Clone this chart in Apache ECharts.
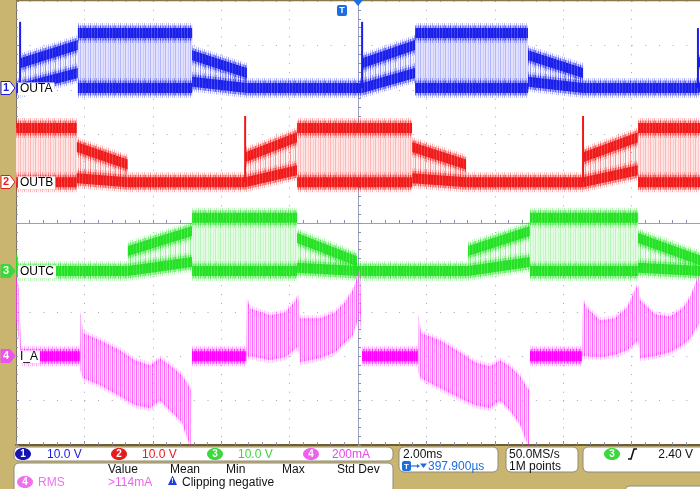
<!DOCTYPE html>
<html><head><meta charset="utf-8">
<script src="https://cdn.jsdelivr.net/npm/echarts@6/dist/echarts.min.js"></script>
<style>html,body{margin:0;padding:0;background:#c9b570}#c{width:700px;height:489px}</style>
</head><body><div id="c"></div>
<script>
// ---------------- DATA ----------------
// time axis in ms relative to trigger, 2.00 ms/div, 10 divisions
const timeMin = -10, timeMax = 10, timeDiv = 2;
const channelNames = ['OUTA', 'OUTB', 'OUTC', 'I_A'];
const channelScale = [10, 10, 10, 200];          // V/div, V/div, V/div, mA/div
const channelGround = [3.04, 0.92, -1.08, -3.0];  // ground position, divisions above centre

// segments: [t0, t1, low0, low1, high0, high1, kind]  kind 0 = low only, 1 = ramp, 2 = full pwm
const outaSegments = [
  [-10, -9.88, 0, 0, 0, 0, 0],
  [-9.88, -8.19, 0, 3.4, 5.6, 9.7, 1],
  [-8.19, -4.85, 0, 0, 12.4, 12.4, 2],
  [-4.85, -3.25, 1.4, 0, 7.4, 3.4, 1],
  [-3.25, 0.12, 0, 0, 0, 0, 0],
  [0.12, 1.67, 0, 3.4, 5.6, 9.7, 1],
  [1.67, 4.97, 0, 0, 12.4, 12.4, 2],
  [4.97, 6.58, 1.4, 0, 7.4, 3.4, 1],
  [6.58, 9.94, 0, 0, 0, 0, 0],
  [9.94, 10, 0, 0.2, 5.6, 5.9, 1]
];
const outaSpikes = [[-9.88, 14.9], [0.12, 14.9], [9.94, 13.5]];

const outbSegments = [
  [-10, -8.22, 0, 0, 12.2, 12.2, 2],
  [-8.22, -6.73, 0.9, 0, 7.9, 4.0, 1],
  [-6.73, -3.30, 0, 0, 0, 0, 0],
  [-3.30, -1.78, 0, 2.7, 5.6, 10.1, 1],
  [-1.78, 1.58, 0, 0, 12.2, 12.2, 2],
  [1.58, 3.16, 0.9, 0, 7.9, 4.0, 1],
  [3.16, 6.58, 0, 0, 0, 0, 0],
  [6.58, 8.19, 0, 2.7, 5.6, 10.1, 1],
  [8.19, 10, 0, 0, 12.2, 12.2, 2]
];
const outbSpikes = [[-3.30, 14.9], [6.58, 14.9]];

const outcSegments = [
  [-10, -9.95, 0, 0, 2.4, 2.0, 1],
  [-9.95, -6.73, 0, 0, 0, 0, 0],
  [-6.73, -4.85, 0, 2.0, 4.5, 9.0, 1],
  [-4.85, -1.78, 0, 0, 12.0, 12.0, 2],
  [-1.78, -0.03, 0.7, 0, 7.4, 2.2, 1],
  [-0.03, 3.22, 0, 0, 0, 0, 0],
  [3.22, 5.03, 0, 2.0, 4.5, 9.0, 1],
  [5.03, 8.19, 0, 0, 12.0, 12.0, 2],
  [8.19, 10, 0.7, 0, 7.4, 2.4, 1]
];

// I_A current envelope (mA)
const iaTime = [-10, -9.91, -9.85, -8.13, -8.11, -8.04, -7.54, -6.96, -6.52, -6.08, -5.79, -5.50, -5.15, -4.97, -4.88, -4.85,
  -3.27, -3.25, -3.16, -2.57, -2.13, -1.81, -1.75, -1.70, -1.11, -0.67, -0.38, -0.15, 0.00, 0.06, 0.12,
  1.75, 1.77, 1.84, 2.40, 2.98, 3.42, 3.86, 4.15, 4.44, 4.74, 4.91, 5.00, 5.03,
  6.55, 6.58, 6.67, 7.08, 7.51, 7.87, 8.13, 8.19, 8.25, 8.68, 9.12, 9.50, 9.71, 9.91, 10.00];
const iaHigh = [365, 297, 0, 0, 194, 104, 72, 27, -18, -41, -9, -41, -86, -131, -153, 0,
  0, 261, 216, 185, 198, 252, 279, 171, 171, 198, 243, 297, 365, 396, 0,
  0, 185, 104, 72, 18, -27, -45, -18, -45, -90, -135, -153, 0,
  0, 252, 221, 162, 171, 221, 306, 320, 252, 189, 180, 216, 266, 342, 360];
const iaLow = [162, 72, 0, 0, -63, -99, -131, -180, -221, -234, -198, -243, -297, -378, -401, 0,
  0, 0, 0, -18, -5, 36, 45, -27, -9, 18, 63, 95, 171, 198, 0,
  0, -72, -99, -144, -189, -221, -234, -198, -243, -306, -378, -401, 0,
  0, 0, 0, -5, 5, 27, 63, 72, -9, 0, 18, 50, 81, 131, 153];

// ---------------- RENDERING ----------------
function pattern(bg, stripes, period) {
  const c = document.createElement('canvas');
  c.width = period; c.height = 4;
  const g = c.getContext('2d');
  if (bg) { g.fillStyle = bg; g.fillRect(0, 0, period, 4); }
  stripes.forEach(([x, w, col]) => { g.fillStyle = col; g.fillRect(x, 0, w, 4); });
  return { image: c, repeat: 'repeat' };
}
function rgba(c, a) { return 'rgba(' + c[0] + ',' + c[1] + ',' + c[2] + ',' + a + ')'; }

function makeStyle(c, pale) {
  return {
    layers: [
      [10, pattern(null, [[0, 1, rgba(c, 0.35)], [2, 1, rgba(c, 0.15)], [4, 1, rgba(c, 0.25)]], 6)],
      [7.5, pattern(rgba(c, 0.25), [[0, 1, rgba(c, 0.55)], [3, 1, rgba(c, 0.4)]], 5)],
      [5, pattern(rgba(c, 0.7), [[0, 1, rgba(c, 1)], [2, 1, rgba(c, 0.9)]], 3)]
    ],
    fullFill: pattern(pale, [[0, 1, rgba(c, 0.22)], [3, 1, rgba(c, 0.12)]], 5),
    rampFill: pattern(rgba(c, 0.05), [[0, 1, rgba(c, 0.42)], [3, 1, rgba(c, 0.18)]], 5)
  };
}
const chStyles = [
  makeStyle([25, 30, 235], 'rgba(226,226,255,1)'),
  makeStyle([240, 25, 25], 'rgba(255,228,228,1)'),
  makeStyle([35, 225, 35], 'rgba(228,252,228,1)')
];
const iaColor = [255, 0, 255];
const iaStyle = {
  layers: [
    [10, pattern(null, [[0, 1, rgba(iaColor, 0.35)], [2, 1, rgba(iaColor, 0.2)]], 4)],
    [7.5, pattern(rgba(iaColor, 0.25), [[0, 1, rgba(iaColor, 0.55)]], 3)],
    [5, pattern(rgba(iaColor, 0.75), [[0, 1, rgba(iaColor, 1)]], 2)]
  ],
  edge: [[3, pattern(null, [[0, 1, rgba(iaColor, 0.25)], [2, 1, rgba(iaColor, 0.12)]], 4)]],
  fill: pattern('rgba(255,190,255,0.5)', [[0, 1, rgba(iaColor, 0.55)], [2, 1, rgba(iaColor, 0.3)]], 4)
};

function bandPolys(p0, p1, layers) {
  return layers.map(([h, fill]) => ({
    type: 'polygon', silent: true,
    shape: { points: [[p0[0], p0[1] - h], [p1[0], p1[1] - h], [p1[0], p1[1] + h], [p0[0], p0[1] + h]] },
    style: { fill: fill }
  }));
}
function segmentRenderer(st) {
  return function (params, api) {
    const t0 = api.value(0), t1 = api.value(1);
    const lo0 = api.coord([t0, api.value(2)]), lo1 = api.coord([t1, api.value(3)]);
    const hi0 = api.coord([t0, api.value(4)]), hi1 = api.coord([t1, api.value(5)]);
    const kind = api.value(6);
    let ch = [];
    if (kind > 0) {
      ch.push({ type: 'polygon', silent: true, shape: { points: [hi0, hi1, lo1, lo0] },
        style: { fill: kind === 2 ? st.fullFill : st.rampFill } });
      ch = ch.concat(bandPolys(hi0, hi1, st.layers));
    }
    ch = ch.concat(bandPolys(lo0, lo1, st.layers));
    return { type: 'group', children: ch };
  };
}
function iaRenderer(params, api) {
  const t0 = api.value(0), t1 = api.value(1);
  const lo0 = api.coord([t0, api.value(2)]), lo1 = api.coord([t1, api.value(3)]);
  const hi0 = api.coord([t0, api.value(4)]), hi1 = api.coord([t1, api.value(5)]);
  const flat = api.value(6) === 0;
  let ch = [];
  if (flat) {
    ch = bandPolys(lo0, lo1, iaStyle.layers);
  } else {
    ch.push({ type: 'polygon', silent: true, shape: { points: [hi0, hi1, lo1, lo0] }, style: { fill: iaStyle.fill } });
    ch = ch.concat(bandPolys(hi0, hi1, iaStyle.edge)).concat(bandPolys(lo0, lo1, iaStyle.edge));
  }
  return { type: 'group', children: ch };
}
function spikeRenderer(color) {
  return function (params, api) {
    const a = api.coord([api.value(0), 0]), b = api.coord([api.value(0), api.value(1)]);
    return { type: 'line', silent: true, shape: { x1: a[0], y1: a[1], x2: b[0], y2: b[1] },
      style: { stroke: color, lineWidth: 2 } };
  };
}

// build I_A segments from the envelope arrays
const iaSegments = [];
for (let i = 0; i < iaTime.length - 1; i++) {
  const flat = (iaHigh[i] === 0 && iaLow[i] === 0 && iaHigh[i + 1] === 0 && iaLow[i + 1] === 0) ? 0 : 1;
  iaSegments.push([iaTime[i], iaTime[i + 1], iaLow[i], iaLow[i + 1], iaHigh[i], iaHigh[i + 1], flat]);
}

const chart = echarts.init(document.getElementById('c'), null, { renderer: 'canvas', width: 700, height: 489 });
const GRID = { left: 16, top: 1, width: 684, height: 444 };
const gridLineColor = '#a3a6bd';

const yAxes = [
  { type: 'value', min: -5, max: 5, interval: 1, position: 'left',
    axisLabel: { show: false },
    axisLine: { show: true, onZero: false, lineStyle: { color: '#7d7464', width: 1 } },
    axisTick: { show: true, inside: true, length: 3, lineStyle: { color: '#8c90a8' } },
    minorTick: { show: true, splitNumber: 5, length: 2, lineStyle: { color: '#8c90a8' } },
    splitLine: { show: true, lineStyle: { color: gridLineColor, width: 1, type: [1, 12.68] } } },
  { type: 'value', min: -5, max: 5, interval: 1, position: 'right',
    axisLabel: { show: false },
    axisLine: { show: true, onZero: true, lineStyle: { color: '#9aa0c0', width: 1 } },
    axisTick: { show: true, inside: false, length: 3, lineStyle: { color: '#8c90b0' } },
    minorTick: { show: true, splitNumber: 5, length: 3, lineStyle: { color: '#8c90b0' } },
    splitLine: { show: false } }
];
channelNames.forEach((n, i) => {
  yAxes.push({ type: 'value', show: false, min: (-5 - channelGround[i]) * channelScale[i],
    max: (5 - channelGround[i]) * channelScale[i], splitLine: { show: false } });
});

const option = {
  animation: false,
  backgroundColor: '#c9b570',
  grid: Object.assign({ show: true, backgroundColor: '#ffffff', borderWidth: 0 }, GRID),
  xAxis: [
    { type: 'value', min: timeMin, max: timeMax, interval: timeDiv, position: 'bottom',
      axisLabel: { show: false },
      axisLine: { show: true, onZero: false, lineStyle: { color: '#6e5c32', width: 2 } },
      axisTick: { show: true, inside: true, length: 4, lineStyle: { color: '#8c90a8' } },
      minorTick: { show: true, splitNumber: 5, length: 3, lineStyle: { color: '#8c90a8' } },
      splitLine: { show: true, lineStyle: { color: gridLineColor, width: 1, type: [1, 7.88] } } },
    { type: 'value', min: timeMin, max: timeMax, interval: timeDiv, position: 'top',
      axisLabel: { show: false },
      axisLine: { show: true, onZero: true, onZeroAxisIndex: 0, lineStyle: { color: '#9aa0c0', width: 1 } },
      axisTick: { show: true, inside: false, length: 3, lineStyle: { color: '#8c90b0' } },
      minorTick: { show: true, splitNumber: 5, length: 3, lineStyle: { color: '#8c90b0' } },
      splitLine: { show: false } }
  ],
  yAxis: yAxes,
  series: [
    { type: 'custom', name: 'OUTA', xAxisIndex: 0, yAxisIndex: 2, clip: true, z: 3,
      renderItem: segmentRenderer(chStyles[0]), data: outaSegments, encode: { x: [0, 1], y: [2, 3, 4, 5] } },
    { type: 'custom', name: 'OUTA spikes', xAxisIndex: 0, yAxisIndex: 2, clip: true, z: 3,
      renderItem: spikeRenderer('rgb(25,30,235)'), data: outaSpikes },
    { type: 'custom', name: 'OUTB', xAxisIndex: 0, yAxisIndex: 3, clip: true, z: 3,
      renderItem: segmentRenderer(chStyles[1]), data: outbSegments, encode: { x: [0, 1], y: [2, 3, 4, 5] } },
    { type: 'custom', name: 'OUTB spikes', xAxisIndex: 0, yAxisIndex: 3, clip: true, z: 3,
      renderItem: spikeRenderer('rgb(240,25,25)'), data: outbSpikes },
    { type: 'custom', name: 'OUTC', xAxisIndex: 0, yAxisIndex: 4, clip: true, z: 3,
      renderItem: segmentRenderer(chStyles[2]), data: outcSegments, encode: { x: [0, 1], y: [2, 3, 4, 5] } },
    { type: 'custom', name: 'I_A', xAxisIndex: 0, yAxisIndex: 5, clip: true, z: 4,
      renderItem: iaRenderer, data: iaSegments, encode: { x: [0, 1], y: [2, 3, 4, 5] } }
  ]
};
chart.setOption(option);

// ---------------- OVERLAYS (markers, readouts) ----------------
const FONT = '"Liberation Sans", Arial, sans-serif';
const markerFill = ['#ffffff', '#ffffff', '#3ad83a', '#f050f0'];
const markerStroke = ['#1c1ce0', '#e81c1c', '#3ad83a', '#f050f0'];
const markerText = ['#1c1ce0', '#e81c1c', '#ffffff', '#ffffff'];
const g = [];
channelNames.forEach((n, i) => {
  const y = Math.round(chart.convertToPixel({ yAxisIndex: 2 + i }, 0));
  g.push({ type: 'polygon', z: 100, shape: { points: [[1, y - 6.5], [10, y - 6.5], [15, y], [10, y + 6.5], [1, y + 6.5]] },
    style: { fill: markerFill[i], stroke: markerStroke[i], lineWidth: 1 } });
  g.push({ type: 'text', z: 101, x: 6, y: y, style: { text: String(i + 1), fill: markerText[i], font: 'bold 11px ' + FONT, align: 'center', verticalAlign: 'middle' } });
  g.push({ type: 'text', z: 101, x: 18, y: y + 1, style: { text: n, fill: '#000', font: '12px ' + FONT, verticalAlign: 'middle',
    backgroundColor: '#ffffff', padding: [1, 2, 0, 2] } });
});
// trigger markers
const tx = chart.convertToPixel({ xAxisIndex: 0 }, 0);
g.push({ type: 'polygon', z: 100, shape: { points: [[tx - 5, 0], [tx + 5, 0], [tx, 6]] }, style: { fill: '#1c6ee0' } });
g.push({ type: 'rect', z: 100, shape: { x: tx - 21, y: 5, width: 10, height: 11, r: 2 }, style: { fill: '#1c6ee0' } });
g.push({ type: 'text', z: 101, x: tx - 16, y: 11, style: { text: 'T', fill: '#fff', font: 'bold 9px ' + FONT, align: 'center', verticalAlign: 'middle' } });
// top border
g.push({ type: 'line', z: 90, shape: { x1: 16, y1: 0.5, x2: 700, y2: 0.5 }, style: { stroke: '#8a7846', lineWidth: 1.5 } });

// readout boxes
function box(x, y, w, h) { g.push({ type: 'rect', z: 100, shape: { x: x, y: y, width: w, height: h, r: 5 }, style: { fill: '#fff', stroke: '#8f8a78', lineWidth: 1 } }); }
function txt(x, y, s, col, size, align) { g.push({ type: 'text', z: 101, x: x, y: y, style: { text: s, fill: col, font: (size || 12) + 'px ' + FONT, verticalAlign: 'middle', align: align || 'left' } }); }
function badge(cx, cy, fill, s) {
  g.push({ type: 'ellipse', z: 101, shape: { cx: cx, cy: cy, rx: 8, ry: 6 }, style: { fill: fill } });
  g.push({ type: 'text', z: 102, x: cx, y: cy + 0.5, style: { text: s, fill: '#fff', font: 'bold 10px ' + FONT, align: 'center', verticalAlign: 'middle' } });
}
box(14, 447, 379, 14);
box(14, 463, 379, 32);
box(399, 447, 99, 25);
box(506, 447, 72, 25);
box(583, 447, 125, 25);
box(625, 486, 80, 10);

badge(23, 454, '#1414b4', '1'); txt(47, 454.5, '10.0 V', '#1c1ce0');
badge(119, 454, '#e41c1c', '2'); txt(142, 454.5, '10.0 V', '#e81c1c');
badge(215, 454, '#3ad83a', '3'); txt(238, 454.5, '10.0 V', '#3ad83a');
badge(311, 454, '#f060f0', '4'); txt(332, 454.5, '200mA', '#e848e8');

txt(108, 469.5, 'Value', '#111'); txt(170, 469.5, 'Mean', '#111'); txt(226, 469.5, 'Min', '#111');
txt(282, 469.5, 'Max', '#111'); txt(337, 469.5, 'Std Dev', '#111');
badge(25, 482, '#f070f0', '4'); txt(38, 482.5, 'RMS', '#f070f0');
txt(108, 482.5, '>114mA', '#f060f0');
g.push({ type: 'polygon', z: 101, shape: { points: [[172.5, 475.5], [177, 485], [168, 485]] }, style: { fill: '#1c3ce0' } });
g.push({ type: 'text', z: 102, x: 172.5, y: 481.5, style: { text: '!', fill: '#fff', font: 'bold 7px ' + FONT, align: 'center', verticalAlign: 'middle' } });
txt(182, 482.5, 'Clipping negative', '#111');

txt(403, 454.5, '2.00ms', '#111');
g.push({ type: 'rect', z: 101, shape: { x: 402, y: 461, width: 9, height: 10, r: 2 }, style: { fill: '#1c6ee0' } });
g.push({ type: 'text', z: 102, x: 406.5, y: 466.5, style: { text: 'T', fill: '#fff', font: 'bold 8px ' + FONT, align: 'center', verticalAlign: 'middle' } });
g.push({ type: 'line', z: 101, shape: { x1: 411, y1: 466, x2: 417, y2: 466 }, style: { stroke: '#1c6ee0', lineWidth: 1.2 } });
g.push({ type: 'polygon', z: 101, shape: { points: [[417, 464], [420, 466], [417, 468]] }, style: { fill: '#1c6ee0' } });
g.push({ type: 'polygon', z: 101, shape: { points: [[420, 463.5], [427, 463.5], [423.5, 468]] }, style: { fill: '#1c6ee0' } });
txt(428, 466.5, '397.900µs', '#1c6ee0');
txt(509, 454.5, '50.0MS/s', '#111'); txt(509, 466.5, '1M points', '#111');
badge(612, 454, '#3ad83a', '3');
g.push({ type: 'polyline', z: 101, shape: { points: [[628, 459], [631, 459], [634, 449], [637, 449]] }, style: { stroke: '#111', lineWidth: 1.6, fill: null } });
txt(693, 454.5, '2.40 V', '#111', 12, 'right');

chart.setOption({ graphic: g });
</script></body></html>
